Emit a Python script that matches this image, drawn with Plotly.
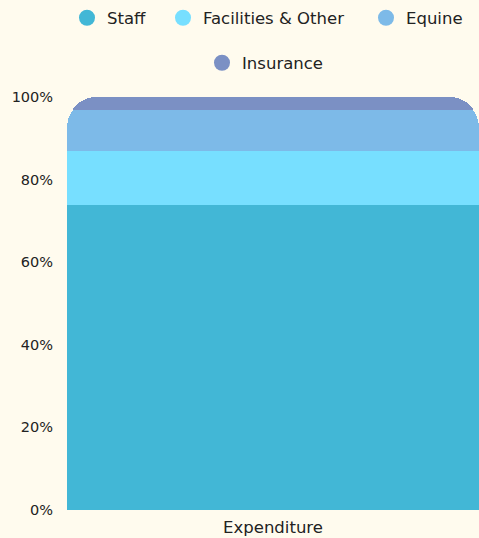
import plotly.graph_objects as go

categories = ["Expenditure"]
series_names = ["Staff", "Facilities & Other", "Equine", "Insurance"]
staff = [73.8]
facilities = [13.1]
equine = [10.0]
insurance = [3.1]
colors = ["#42B7D6", "#77DFFF", "#7DBAE8", "#7B90C4"]
y_ticks = [0, 20, 40, 60, 80, 100]
y_tick_labels = ["0%", "20%", "40%", "60%", "80%", "100%"]

values = [staff, facilities, equine, insurance]
FONT = "DejaVu Sans"
FS = 16.5
TFS = 14.5
W, H = 479, 538

# legend entry placement (pixel centre of symbol, pixel row centre)
legend_pos = [(88, 18), (184, 18), (387, 18), (223, 63)]
legend_ids = ["legend", "legend2", "legend3", "legend4"]

fig = go.Figure()
for name, vals, col in zip(series_names, values, colors):
    fig.add_trace(go.Bar(x=categories, y=vals, name=name, marker_color=col,
                         marker_line_width=0, showlegend=False, hoverinfo="y+name"))
for name, col, lid in zip(series_names, colors, legend_ids):
    fig.add_trace(go.Scatter(x=[None], y=[None], mode="markers", name=name,
                             marker=dict(color=col, size=16, symbol="circle"),
                             legend=lid))

layout_legends = {}
for lid, (cx, cy) in zip(legend_ids, legend_pos):
    layout_legends[lid] = dict(
        orientation="h", xref="container", yref="container",
        x=(cx - 21) / W, xanchor="left", y=1 - cy / H, yanchor="middle",
        font=dict(size=FS, color="#222222"), itemsizing="trace",
        bgcolor="rgba(0,0,0,0)", borderwidth=0)

fig.update_layout(
    width=W, height=H, autosize=False,
    margin=dict(l=67, r=0, t=97, b=28, autoexpand=False),
    paper_bgcolor="#FFFBEE", plot_bgcolor="#FFFBEE",
    barmode="stack", bargap=0, barcornerradius=30,
    font=dict(family=FONT, size=FS, color="#222222"),
    xaxis=dict(showgrid=False, showline=False, zeroline=False, tickfont=dict(size=FS),
               ticks="outside", ticklen=2, tickcolor="rgba(0,0,0,0)"),
    yaxis=dict(range=[0, 100], tickvals=y_ticks, ticktext=y_tick_labels, showgrid=True,
               gridcolor="#E6E2D3", zeroline=False, showline=False,
               ticks="outside", ticklen=10, tickcolor="rgba(0,0,0,0)",
               tickfont=dict(size=TFS)),
    **layout_legends,
)
fig.write_html("out.html", config={"displayModeBar": False},
               post_script="document.body.style.margin='0';document.body.style.background='#FFFBEE';")
